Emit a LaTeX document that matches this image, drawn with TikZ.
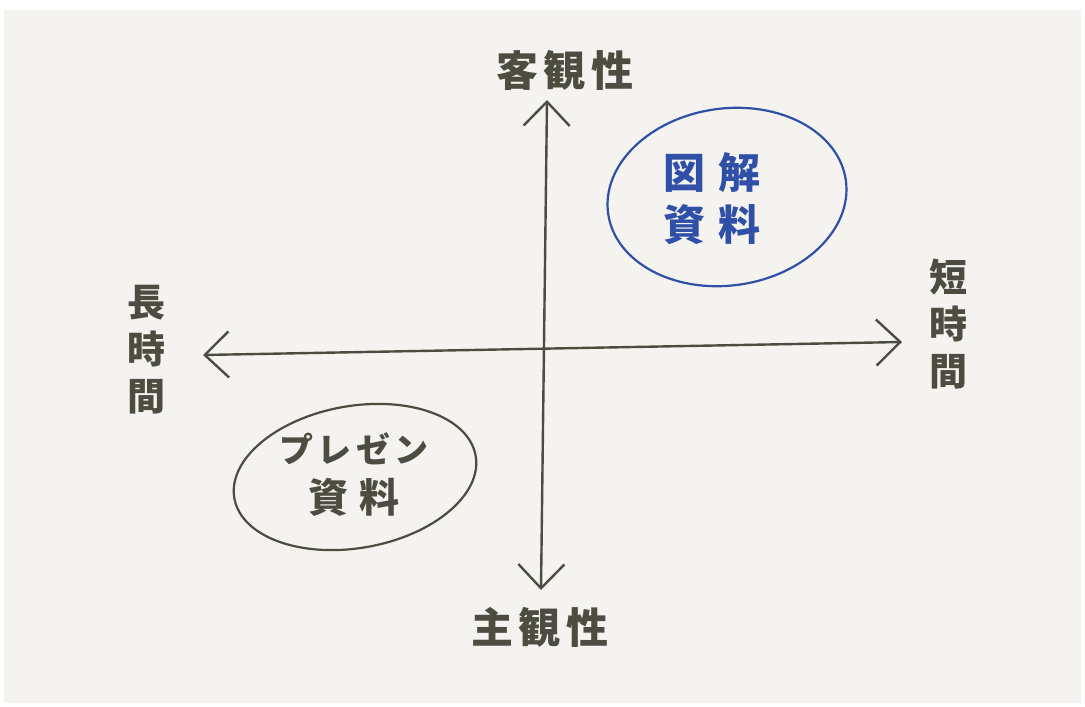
\documentclass[tikz,border=0pt]{standalone}
\usepackage{fontspec}
\newfontfamily\jp[LetterSpace=12]{Noto Sans CJK JP}
\newfontfamily\jpw[LetterSpace=30]{Noto Sans CJK JP}
\usetikzlibrary{shapes.geometric,arrows.meta}
\definecolor{paper}{HTML}{F4F3EF}
\definecolor{ink}{HTML}{4C4C40}
\definecolor{blueink}{HTML}{3050A8}
\tikzset{
  tip/.style={Straight Barb[length=24pt,width=46pt,line width=2.4pt]},
  axis/.style={draw=ink, line width=2.4pt, line cap=round, {Straight Barb[length=24pt,width=46pt,line width=2.4pt]}-{Straight Barb[length=24pt,width=46pt,line width=2.4pt]}},
  lbl/.style={text=ink, font=\jp\bfseries\fontsize{42}{44}\selectfont, inner sep=0pt},
  vlbl/.style={text=ink, font=\jp\bfseries\fontsize{38}{47}\selectfont, inner sep=0pt, align=center},
  bubble/.style={ellipse, line width=2.2pt, inner sep=0pt},
  btext/.style={align=center, inner sep=0pt}
}
\begin{document}
\begin{tikzpicture}[x=1pt,y=-1pt]
\useasboundingbox (0,0) rectangle (1085,707);
\fill[white] (0,0) rectangle (1085,707);
\fill[paper] (4,10) rectangle (1081,703);
% axes
\coordinate (L) at (203,355);
\coordinate (R) at (902,342);
\coordinate (T) at (547,100);
\coordinate (B) at (541,590);
\draw[axis] (L) -- (R);
\draw[axis] (B) -- (T);
% labels
\node[lbl] (top) at (565,70) {客観性};
\node[lbl] (bot) at (540,627) {主観性};
\node[vlbl] (left) at (146,350) {長\\時\\間};
\node[vlbl] (right) at (948,324) {短\\時\\間};
% bubbles
\node[bubble, draw=blueink, minimum width=240pt, minimum height=177pt, rotate=8] (zukai) at (727,197) {};
\node[btext, text=blueink, font=\jpw\bfseries\fontsize{42}{52}\selectfont] (zt) at (712,199) {図解\\資料};
\node[bubble, draw=ink, minimum width=245pt, minimum height=142pt, rotate=10] (pres) at (355,477) {};
\node[btext, text=ink, font=\jp\bfseries\fontsize{34}{50}\selectfont] (pt) at (354,475) {プレゼン\\{\jpw\bfseries\fontsize{40}{50}\selectfont 資料}};
\end{tikzpicture}
\end{document}
